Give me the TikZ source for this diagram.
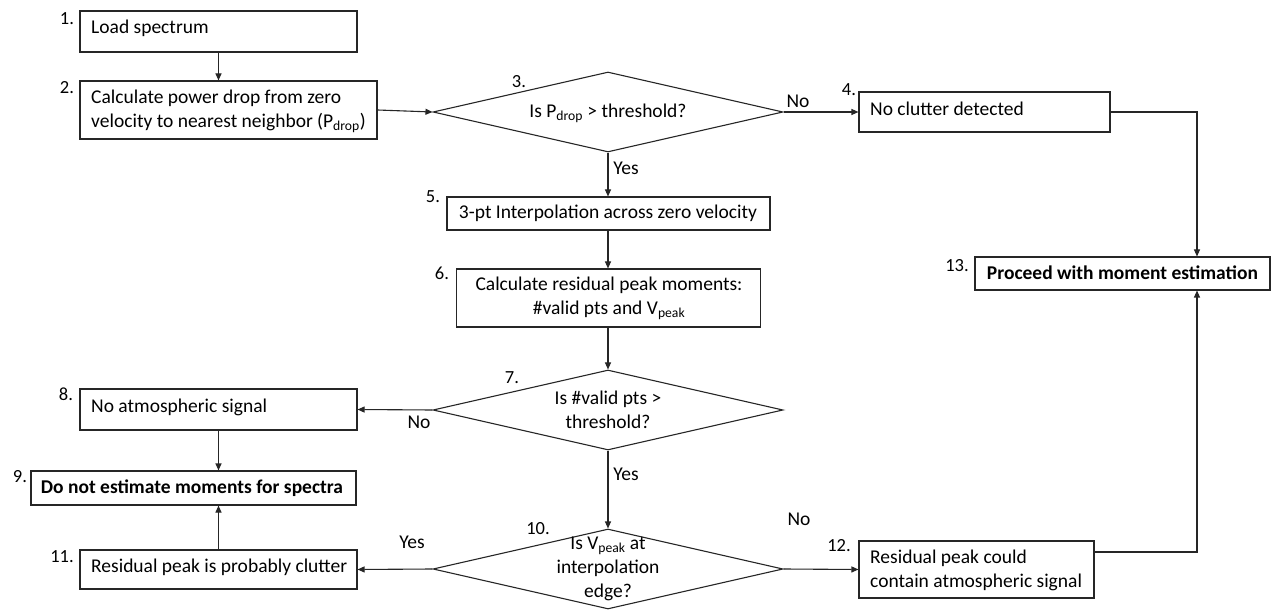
\documentclass[tikz,border=0pt]{standalone}
\usepackage{fontspec}
\setmainfont{Carlito}
\usetikzlibrary{arrows.meta,shapes.geometric}
\begin{document}
\begin{tikzpicture}[x=1pt,y=-1pt,
  font=\fontsize{19.5}{24}\selectfont,
  box/.style={draw=black!85, line width=1.1pt, rectangle, inner sep=0pt},
  dia/.style={draw=black!85, line width=1.1pt, diamond, minimum width=350pt, minimum height=80pt, inner sep=0pt},
  num/.style={inner sep=0pt, font=\fontsize{18.5}{22}\selectfont},
  elab/.style={inner sep=0pt},
  conn/.style={draw=black!85, line width=1.1pt, -{Triangle[length=7pt,width=6pt]}}]
\useasboundingbox[fill=white] (0,0) rectangle (1275,612);
% boxes
\node[box, minimum width=277pt, minimum height=41pt] (b1) at (218.5,31.5) {};
\node[anchor=west, inner sep=0pt] (t1) at (91,28) {Load spectrum};
\node[box, minimum width=297pt, minimum height=58pt] (b2) at (228.5,110) {};
\node[anchor=west, inner sep=0pt, align=left] (t2) at (91,111) {Calculate power drop from zero\\velocity to nearest neighbor (P\textsubscript{drop})};
\node[dia] (d3) at (608,112) {};
\node (t3) at (608,113) {Is P\textsubscript{drop} > threshold?};
\node[box, minimum width=251pt, minimum height=40pt] (b4) at (984.5,112) {};
\node[anchor=west, inner sep=0pt] (t4) at (870,109) {No clutter detected};
\node[box, minimum width=323pt, minimum height=33pt] (b5) at (608.5,213.5) {};
\node (t5) at (608,213) {3-pt Interpolation across zero velocity};
\node[box, minimum width=304pt, minimum height=58pt] (b6) at (608.5,298) {};
\node[align=center, inner sep=0pt] (t6) at (609,298) {Calculate residual peak moments:\\\#valid pts and V\textsubscript{peak}};
\node[dia] (d7) at (608,410) {};
\node[align=center, inner sep=0pt] (t7) at (608,410) {Is \#valid pts >\\threshold?};
\node[box, minimum width=277pt, minimum height=41pt] (b8) at (218.5,409.5) {};
\node[anchor=west, inner sep=0pt] (t8) at (91,407) {No atmospheric signal};
\node[box, minimum width=325pt, minimum height=34pt] (b9) at (193.5,488) {};
\node (t9) at (192,488) {\bfseries Do not estimate moments for spectra};
\node[dia] (d10) at (608,569) {};
\node[align=center, inner sep=0pt] (t10) at (608,569) {Is V\textsubscript{peak} at\\interpolation\\edge?};
\node[box, minimum width=277pt, minimum height=39pt] (b11) at (218.5,569.5) {};
\node[anchor=west, inner sep=0pt] (t11) at (91,567) {Residual peak is probably clutter};
\node[box, minimum width=235pt, minimum height=57pt] (b12) at (976.5,569.5) {};
\node[anchor=west, inner sep=0pt, align=left] (t12) at (870,570) {Residual peak could\\contain atmospheric signal};
\node[box, minimum width=295pt, minimum height=33pt] (b13) at (1122.5,273.5) {};
\node (t13) at (1122.5,273) {\bfseries Proceed with moment estimation};
% numbers
\node[num] (n1) at (67,19) {1.};
\node[num] (n2) at (67,88) {2.};
\node[num] (n3) at (519,82) {3.};
\node[num] (n4) at (849,90) {4.};
\node[num] (n5) at (433,197) {5.};
\node[num] (n6) at (442,273) {6.};
\node[num] (n7) at (512,378) {7.};
\node[num] (n8) at (66,394) {8.};
\node[num] (n9) at (20,477) {9.};
\node[num] (n10) at (538,529) {10.};
\node[num] (n11) at (62,557) {11.};
\node[num] (n12) at (839,546) {12.};
\node[num] (n13) at (957,266) {13.};
% edge labels
\node[elab] (l1) at (798,101) {No};
\node[elab] (l2) at (626,168) {Yes};
\node[elab] (l3) at (419,422) {No};
\node[elab] (l4) at (626,474) {Yes};
\node[elab] (l5) at (799,519) {No};
\node[elab] (l6) at (412,542) {Yes};
% connectors
\draw[conn] (b1.south) -- (b2.north -| b1.south);
\draw[conn] (b2.east) -- (d3.west);
\draw[conn] (d3.east) -- (b4.west);
\draw[conn] (d3.south) -- (b5.north -| d3.south);
\draw[conn] (b4.east) -| ([xshift=74.5pt]b13.north);
\draw[conn] (b5.south -| d3.south) -- (b6.north -| d3.south);
\draw[conn] (b6.south -| d7.north) -- (d7.north);
\draw[conn] (d7.west) -- (b8.east);
\draw[conn] (d7.south) -- (d10.north);
\draw[conn] (b8.south) -- (b8.south |- b9.north);
\draw[conn] (b11.north) -- (b11.north |- b9.south);
\draw[conn] (d10.west) -- (b11.east);
\draw[conn] (d10.east) -- (b12.west);
\draw[conn] ([yshift=17.5pt]b12.east) -| ([xshift=74.5pt]b13.south);
\end{tikzpicture}
\end{document}
